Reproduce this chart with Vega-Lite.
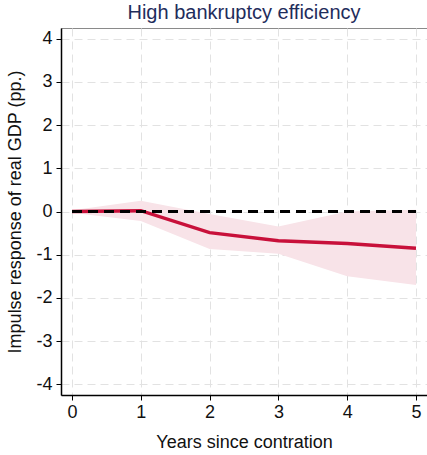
{
  "$schema": "https://vega.github.io/schema/vega-lite/v6.json",
  "width": 366,
  "height": 367,
  "autosize": {"type": "none"},
  "padding": {"left": 61, "top": 28, "right": 0, "bottom": 60},
  "background": "white",
  "config": {
    "font": "Liberation Sans",
    "view": {"stroke": "#8a8a8a", "strokeWidth": 1}
  },
  "title": {
    "text": "High bankruptcy efficiency",
    "color": "#1f2d5c",
    "fontSize": 20,
    "fontWeight": "normal",
    "font": "Liberation Sans",
    "anchor": "middle",
    "offset": 5
  },
  "data": {
    "values": [
      {"year": 0, "irf": 0.0, "lo": -0.03, "hi": 0.03, "zero": 0},
      {"year": 1, "irf": 0.02, "lo": -0.22, "hi": 0.25, "zero": 0},
      {"year": 2, "irf": -0.49, "lo": -0.87, "hi": -0.06, "zero": 0},
      {"year": 3, "irf": -0.68, "lo": -0.98, "hi": -0.35, "zero": 0},
      {"year": 4, "irf": -0.74, "lo": -1.5, "hi": 0.0, "zero": 0},
      {"year": 5, "irf": -0.85, "lo": -1.7, "hi": 0.04, "zero": 0}
    ]
  },
  "encoding": {
    "x": {
      "field": "year",
      "type": "quantitative",
      "scale": {"domain": [-0.16, 5.16], "nice": false, "zero": false},
      "axis": {
        "title": "Years since contration",
        "values": [0, 1, 2, 3, 4, 5],
        "titleFont": "Liberation Sans",
        "titleFontSize": 18,
        "titleFontWeight": "normal",
        "titleColor": "#111",
        "titlePadding": 12,
        "labelFont": "Liberation Sans",
        "labelFontSize": 18,
        "labelColor": "#111",
        "labelPadding": 3,
        "domainColor": "#000",
        "domainWidth": 1.5,
        "tickColor": "#000",
        "tickSize": 5,
        "grid": true,
        "gridColor": "#e2e2e2",
        "gridDash": [8, 5],
        "gridWidth": 1
      }
    }
  },
  "layer": [
    {
      "mark": {"type": "area", "color": "#f8e3e8", "opacity": 1},
      "encoding": {
        "y": {
          "field": "lo",
          "type": "quantitative",
          "scale": {"domain": [-4.25, 4.25], "nice": false, "zero": false},
          "axis": {
            "title": "Impulse response of real GDP (pp.)",
            "values": [-4, -3, -2, -1, 0, 1, 2, 3, 4],
            "labelExpr": "'' + datum.value",
            "titleFont": "Liberation Sans",
            "titleFontSize": 18,
            "titleFontWeight": "normal",
            "titleColor": "#111",
            "titlePadding": 11,
            "labelFont": "Liberation Sans",
            "labelFontSize": 18,
            "labelColor": "#111",
            "labelPadding": 4,
            "domainColor": "#000",
            "domainWidth": 1.5,
            "tickColor": "#000",
            "tickSize": 5,
            "grid": true,
            "gridColor": "#e2e2e2",
            "gridDash": [8, 5],
            "gridWidth": 1
          }
        },
        "y2": {"field": "hi"}
      }
    },
    {
      "mark": {"type": "line", "color": "#c8103a", "strokeWidth": 3.5},
      "encoding": {"y": {"field": "irf", "type": "quantitative"}}
    },
    {
      "mark": {"type": "line", "color": "#000000", "strokeWidth": 3, "strokeDash": [10, 6]},
      "encoding": {"y": {"field": "zero", "type": "quantitative"}}
    }
  ]
}
